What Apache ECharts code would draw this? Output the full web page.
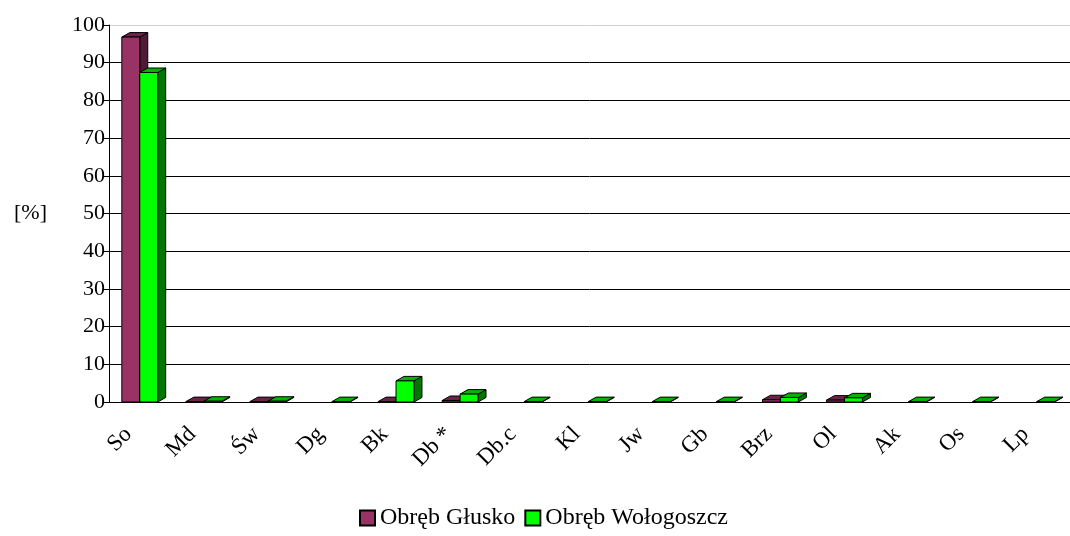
<!DOCTYPE html>
<html>
<head>
<meta charset="utf-8">
<script src="https://cdn.jsdelivr.net/npm/echarts@6/dist/echarts.min.js"></script>
<style>html,body{margin:0;padding:0;background:#fff}#c{width:1070px;height:536px}</style>
</head>
<body>
<div id="c"></div>
<script>
var categories = ['So','Md','Św','Dg','Bk','Db *','Db.c','Kl','Jw','Gb','Brz','Ol','Ak','Os','Lp'];
var seriesNames = ['Obręb Głusko','Obręb Wołogoszcz'];
var glusko = [96.8, 0.1, 0.1, 0, 0.1, 0.4, 0, 0, 0, 0, 0.6, 0.5, 0, 0, 0];
var wologoszcz = [87.4, 0.2, 0.2, 0.1, 5.6, 2.1, 0.1, 0.1, 0.1, 0.1, 1.2, 1.1, 0.1, 0.1, 0.1];
var yTicks = [0,10,20,30,40,50,60,70,80,90,100];

var FONT = '"Liberation Serif","Times New Roman",serif';

function makeRender(offset, front, top, side) {
  return function (params, api) {
    var i = api.value(0), v = api.value(1);
    if (!(v > 0)) return {type: 'group', children: []};
    var base = api.coord([i, 0]);
    var tp = api.coord([i, v]);
    var bw = api.size([1, 0])[0];
    var w = bw * 0.28;
    var x0 = base[0] + offset * bw;
    var x1 = x0 + w;
    var y0 = base[1], y1 = tp[1];
    var dx = 8, dy = 4.5;
    var st = function (f) { return {fill: f, stroke: '#000', lineWidth: 1}; };
    return {type: 'group', children: [
      {type: 'polygon', shape: {points: [[x1, y0], [x1 + dx, y0 - dy], [x1 + dx, y1 - dy], [x1, y1]]}, style: st(side)},
      {type: 'polygon', shape: {points: [[x0, y1], [x0 + dx, y1 - dy], [x1 + dx, y1 - dy], [x1, y1]]}, style: st(top)},
      {type: 'rect', shape: {x: x0, y: y1, width: w, height: y0 - y1}, style: st(front)}
    ]};
  };
}

var chart = echarts.init(document.getElementById('c'), null, {renderer: 'canvas'});
var gridColors = yTicks.map(function (t, k) { return k === yTicks.length - 1 ? '#d0d0d0' : '#000'; });

chart.setOption({
  animation: false,
  textStyle: {fontFamily: FONT},
  grid: {left: 109, right: 0, top: 25, bottom: 134, containLabel: false},
  legend: {
    bottom: 1, left: 354,
    itemWidth: 15, itemHeight: 15, itemGap: 9, icon: 'rect',
    textStyle: {fontFamily: FONT, fontSize: 24, color: '#000'},
    data: seriesNames
  },
  xAxis: {
    type: 'category', data: categories,
    axisLine: {lineStyle: {color: '#000', width: 1}},
    axisTick: {lineStyle: {color: '#000'}, length: 6},
    axisLabel: {rotate: 45, fontFamily: FONT, fontSize: 23, color: '#000', margin: 16, interval: 0, padding: [0, 18, 0, 0]},
    splitLine: {show: false}
  },
  yAxis: {
    type: 'value', min: 0, max: 100, interval: 10,
    name: '[%]', nameLocation: 'middle', nameRotate: 0, nameGap: 62,
    nameTextStyle: {fontFamily: FONT, fontSize: 22, color: '#000'},
    axisLine: {show: true, lineStyle: {color: '#000', width: 1}},
    axisTick: {show: true, lineStyle: {color: '#000'}, length: 5},
    axisLabel: {fontFamily: FONT, fontSize: 22, color: '#000', margin: 4},
    splitLine: {show: true, lineStyle: {color: gridColors, width: 1}}
  },
  series: [
    {
      name: seriesNames[0], type: 'custom',
      itemStyle: {color: '#993366', borderColor: '#000', borderWidth: 1},
      renderItem: makeRender(-0.30, '#993366', '#6b2447', '#4f1a35'),
      encode: {x: 0, y: 1},
      data: glusko.map(function (v, i) { return [i, v]; })
    },
    {
      name: seriesNames[1], type: 'custom',
      itemStyle: {color: '#00ff00', borderColor: '#000', borderWidth: 1},
      renderItem: makeRender(-0.02, '#00ff00', '#00b400', '#007800'),
      encode: {x: 0, y: 1},
      data: wologoszcz.map(function (v, i) { return [i, v]; })
    }
  ]
});
</script>
</body>
</html>
